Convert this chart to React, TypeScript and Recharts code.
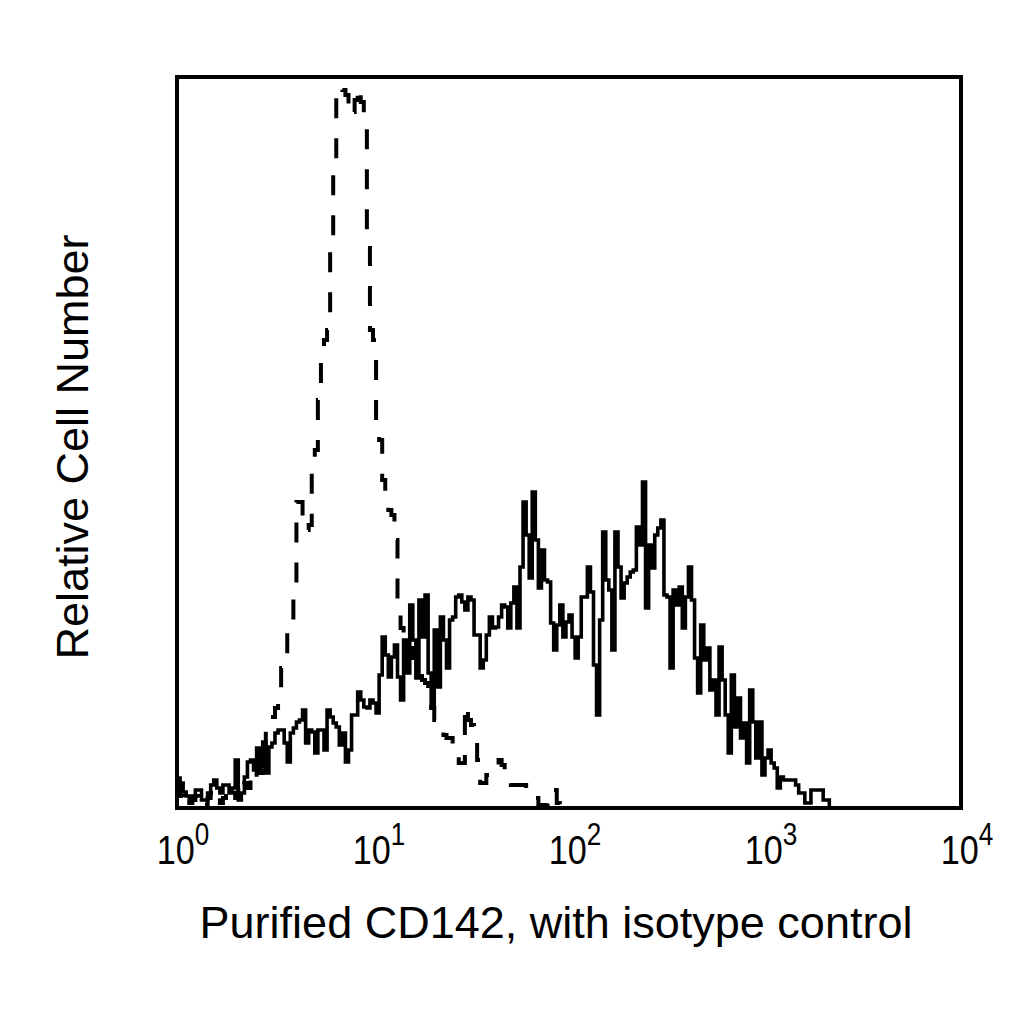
import { LineChart, Line, XAxis, YAxis, ReferenceArea } from 'recharts'

// channel counts (256 channels over 4 decades)
const CD142 = [
  30, 25, 16, 12, 8, 12, 18, 18, 8, 8, 15, 23, 28, 20, 15, 23, 23, 15, 20, 48,
  8, 15, 31, 46, 48, 38, 60, 41, 66, 35, 61, 65, 75, 78, 78, 65, 46, 75, 80, 86,
  88, 98, 65, 78, 76, 55, 78, 78, 58, 98, 91, 85, 81, 63, 75, 46, 58, 93, 93, 116,
  108, 101, 100, 108, 105, 95, 133, 171, 153, 131, 151, 163, 131, 108, 168, 135, 203, 168, 130, 208,
  171, 213, 135, 100, 178, 121, 191, 168, 140, 188, 191, 211, 213, 206, 198, 211, 208, 173, 173, 140,
  148, 173, 191, 180, 181, 191, 203, 201, 180, 205, 221, 180, 241, 306, 273, 230, 316, 268, 220, 258,
  228, 226, 185, 158, 183, 203, 171, 186, 193, 171, 150, 171, 211, 211, 241, 216, 143, 93, 188, 276,
  228, 218, 158, 276, 241, 210, 225, 231, 236, 238, 281, 263, 326, 200, 263, 240, 273, 280, 288, 213,
  211, 140, 218, 203, 221, 180, 211, 241, 208, 150, 115, 183, 148, 160, 118, 128, 93, 161, 128, 93,
  55, 133, 81, 110, 70, 85, 45, 118, 86, 50, 86, 33, 50, 58, 45, 40, 20, 31, 28, 28,
  28, 28, 23, 15, 15, 5, 5, 18, 18, 18, 18, 8, 8, 0,
]

const ISOTYPE = [
  25, 12, 5, 10, 5, 8, 12, 5, 8, 3, 10, 15, 8, 12, 5, 10, 15, 12, 18, 10,
  20, 15, 25, 20, 30, 25, 38, 35, 50, 91, 91, 91, 100, 108, 140, 146, 180, 188, 220, 306,
  306, 278, 278, 283, 348, 358, 408, 461, 468, 478, 563, 641, 721, 721, 718, 713, 693, 696, 708, 721,
  706, 688, 563, 478, 468, 388, 368, 328, 306, 298, 293, 268, 208, 180, 170, 165, 160, 150, 150, 145,
  128, 125, 118, 100, 88, 83, 80, 73, 70, 70, 63, 63, 45, 45, 103, 88, 83, 68, 48, 25,
  25, 33, 33, 33, 33, 48, 43, 35, 35, 23, 23, 23, 23, 23, 18, 10, 10, 10, 3, 3,
  3, 18, 18, 18, 5, 0,
]

const DECADE_TICKS = [0, 64, 128, 192, 256]
const DECADE_EXPONENTS = ['0', '1', '2', '3', '4']

const Y_MAX = 731
const FONT = '"Liberation Sans", Arial, Helvetica, sans-serif'

function toSteps(counts: number[]) {
  const rows = counts.map((count, ch) => ({ ch, count }))
  rows.push({ ch: counts.length, count: counts[counts.length - 1] })
  return rows
}

function DecadeTick({ x, payload }: { x?: number; payload?: { value: number } }) {
  const idx = DECADE_TICKS.indexOf(payload?.value ?? 0)
  const cx = (x ?? 0) + 6
  // labels in the original are a condensed face, so squeeze them a little
  return (
    <g transform={`translate(${cx}, 864) scale(0.9, 1.05)`}>
      <text x={0} y={0} textAnchor="middle" fill="#000" fontFamily={FONT}>
        <tspan fontSize={38}>10</tspan>
        <tspan fontSize={29} dy={-18}>
          {DECADE_EXPONENTS[idx]}
        </tspan>
      </text>
    </g>
  )
}

export default function App() {
  const cd142 = toSteps(CD142)
  const isotype = toSteps(ISOTYPE)

  return (
    <div style={{ position: 'absolute', left: 0, top: 0, width: 1024, height: 1024, background: '#fff' }}>
      <LineChart width={1024} height={1024} margin={{ top: 77, right: 63, left: 177, bottom: 136 }}>
        <XAxis
          dataKey="ch"
          type="number"
          domain={[0, 256]}
          ticks={DECADE_TICKS}
          interval={0}
          axisLine={false}
          tickLine={false}
          height={80}
          tick={<DecadeTick />}
          allowDataOverflow
        />
        <YAxis hide type="number" domain={[0, Y_MAX]} allowDataOverflow />
        <Line
          data={isotype}
          dataKey="count"
          type="stepAfter"
          stroke="#000"
          strokeWidth={4}
          strokeDasharray="20 20"
          dot={false}
          isAnimationActive={false}
        />
        <Line
          data={cd142}
          dataKey="count"
          type="stepAfter"
          stroke="#000"
          strokeWidth={3.6}
          dot={false}
          isAnimationActive={false}
        />
        <ReferenceArea
          x1={0}
          x2={256}
          y1={0}
          y2={Y_MAX}
          fill="none"
          fillOpacity={0}
          stroke="#000"
          strokeWidth={4}
          ifOverflow="visible"
        />
      </LineChart>
      <svg
        width={1024}
        height={1024}
        style={{ position: 'absolute', left: 0, top: 0, pointerEvents: 'none' }}
      >
        <text x={556} y={938} textAnchor="middle" fontSize={45} fontFamily={FONT} fill="#000">
          Purified CD142, with isotype control
        </text>
        <text
          transform="translate(88, 447) rotate(-90)"
          textAnchor="middle"
          fontSize={45}
          fontFamily={FONT}
          fill="#000"
        >
          Relative Cell Number
        </text>
      </svg>
    </div>
  )
}
